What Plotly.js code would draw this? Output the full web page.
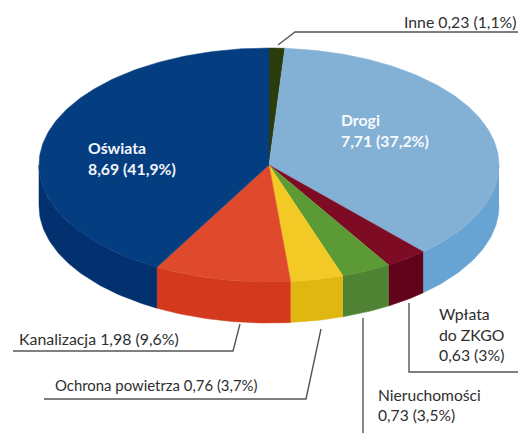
<!DOCTYPE html>
<html><head><meta charset="utf-8">
<script src="https://cdn.plot.ly/plotly-3.0.1.min.js"></script>
<style>html,body{margin:0;padding:0;background:#fff}#c{width:518px;height:433px}</style>
</head><body><div id="c"></div>
<script>
// Data, clockwise from 12 o'clock
const categories = ['Inne','Drogi','Wpłata do ZKGO','Nieruchomości','Ochrona powietrza','Kanalizacja','Oświata'];
const amounts = ['0,23','7,71','0,63','0,73','0,76','1,98','8,69'];
const percents = [1.1,37.2,3,3.5,3.7,9.6,41.9];
const percentText = ['1,1%','37,2%','3%','3,5%','3,7%','9,6%','41,9%'];
const topColors = ['#2b3d0d','#83b1d6','#7e0b24','#5c9a35','#f3c926','#de4a2b','#053d81'];
const sideColors = ['#2b3d0d','#68a4d3','#62031c','#4f8233','#e0b710','#d2391d','#03316f'];

const cx=269, cy=165, rx=230, ry=117, depth=41;
const font='Lato, "Open Sans", sans-serif', ink='#2e2e2e', lead='#555555';

const total=percents.reduce((a,b)=>a+b,0);
function pt(deg,dy){const t=deg*Math.PI/180;return [cx+rx*Math.sin(t), cy-ry*Math.cos(t)+dy];}
function arc(a,b,dy){const n=Math.max(2,Math.ceil(Math.abs(b-a)));const o=[];for(let i=0;i<=n;i++)o.push(pt(a+(b-a)*i/n,dy));return o;}
function shape(points,color,name){
  return {type:'scatter',mode:'lines',x:points.map(p=>p[0]),y:points.map(p=>p[1]),fill:'toself',fillcolor:color,
    line:{color:color,width:0.5},hoverinfo:'text',text:name,showlegend:false};
}
const walls=[],tops=[];let start=0;
categories.forEach((c,i)=>{
  const end=start+percents[i]/total*360;
  const a=Math.max(start,90), b=Math.min(end,270);
  if(b>a) walls.push(shape(arc(a,b,0).concat(arc(b,a,depth)),sideColors[i],c));
  tops.push(shape([[cx,cy]].concat(arc(start,end,0)),topColors[i],c));
  start=end;
});
// Leader lines
const leaderX=[[278,295,518],[409,409,518],[363,363],[321,306,44],[240,233,13]];
const leaderY=[[45,32,32],[303,372,372],[318,433],[329,399,399],[324,351,351]];
const leaders=leaderX.map((x,i)=>({type:'scatter',mode:'lines',x:x,y:leaderY[i],line:{color:lead,width:1.4},hoverinfo:'skip',showlegend:false}));

const lab=(i)=>`${amounts[i]} (${percentText[i]})`;
function note(text,x,y,color,bold,size){
  return {text:bold?`<b>${text}</b>`:text,x:x,y:y,xref:'x',yref:'y',xanchor:'left',yanchor:'middle',align:'left',showarrow:false,
    borderpad:0,borderwidth:0,font:{family:font,size:size||15.8,color:color}};
}
const annotations=[
  note(`${categories[6]}<br>${lab(6)}`,88,158,'#f2f5fa',true),
  note(`${categories[1]}<br>${lab(1)}`,341,130,'#f7fafd',true),
  note(`${categories[0]} ${lab(0)}`,404,21,ink),
  note(`${categories[5]} ${lab(5)}`,19,338,ink,false,15.9),
  note(`${categories[4]} ${lab(4)}`,55,385,ink,false,14.9),
  note(`Wpłata<br>do ZKGO<br>${lab(2)}`,439,334,ink),
  note(`${categories[3]}<br>${lab(3)}`,378,405,ink,false,15.6)
];
Plotly.newPlot('c',walls.concat(tops,leaders),{
  width:518,height:433,margin:{l:0,r:0,t:0,b:0,pad:0},paper_bgcolor:'#fff',plot_bgcolor:'#fff',
  xaxis:{range:[0,518],visible:false,fixedrange:true},
  yaxis:{range:[433,0],visible:false,fixedrange:true},
  annotations:annotations,showlegend:false
},{displayModeBar:false,staticPlot:true});
</script></body></html>
